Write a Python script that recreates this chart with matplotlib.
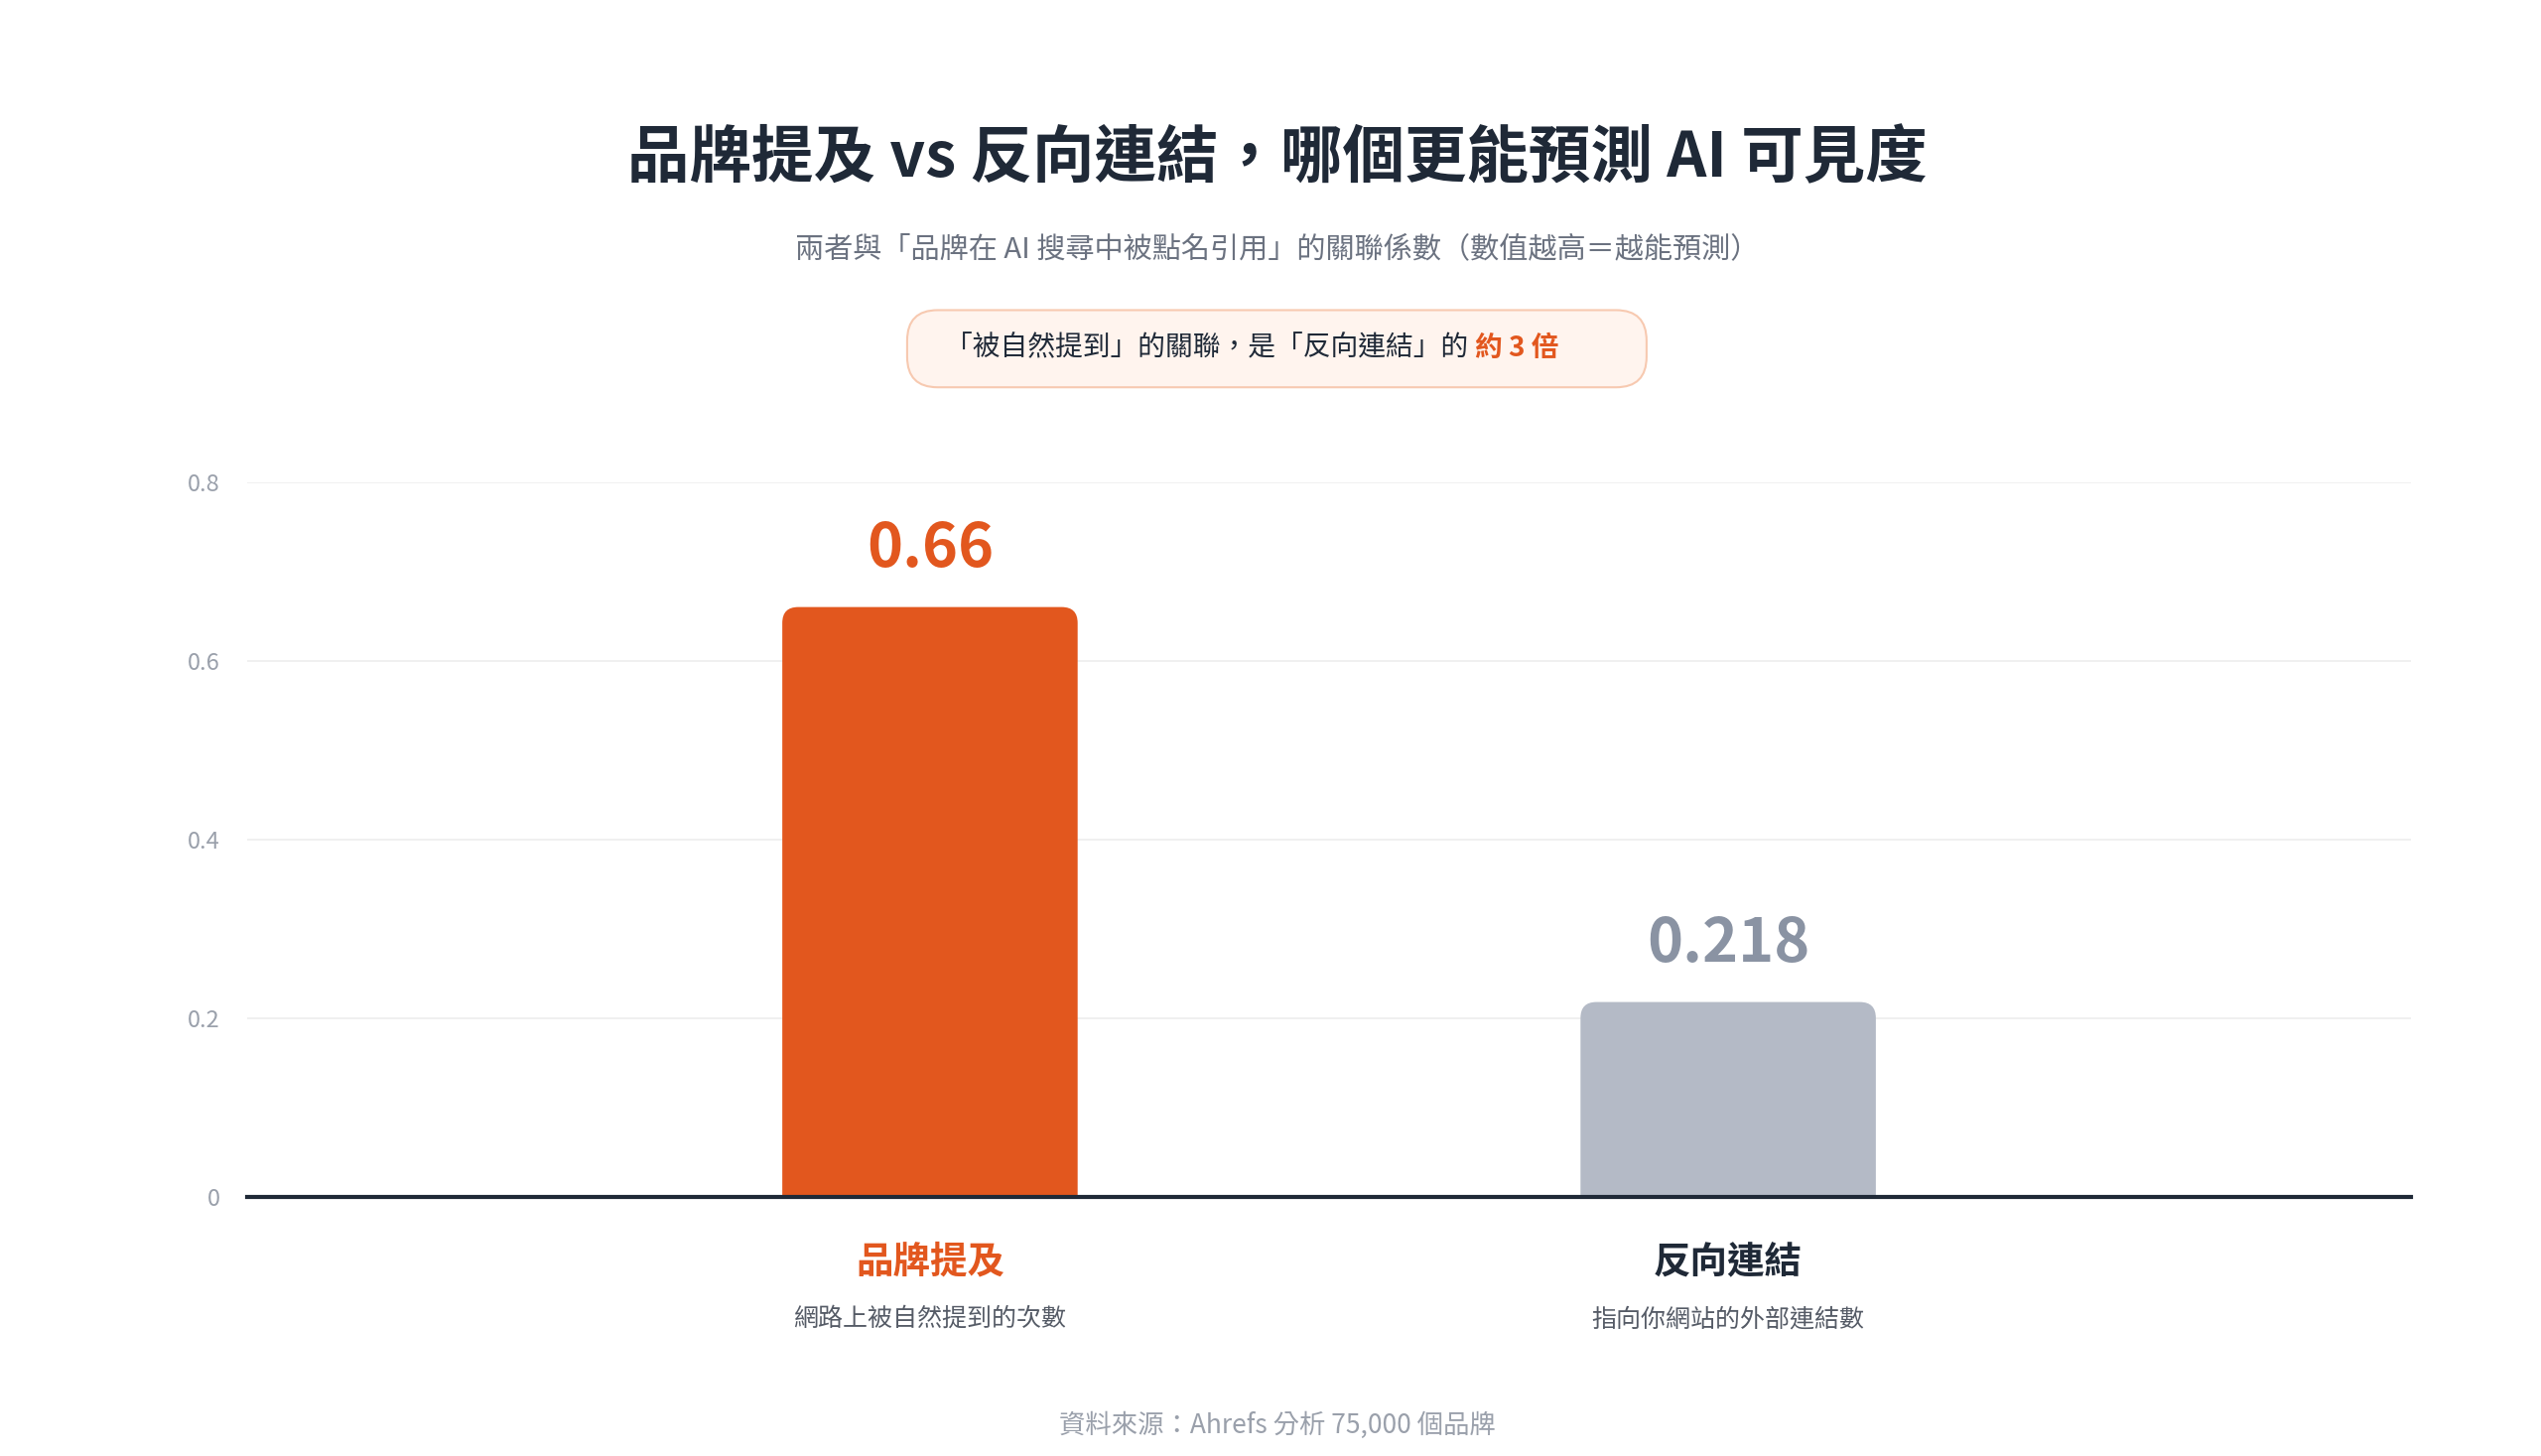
import matplotlib.pyplot as plt
from matplotlib.patches import FancyBboxPatch

plt.rcParams['font.family'] = ['Noto Sans CJK TC', 'DejaVu Sans']

categories = ["品牌提及", "反向連結"]
descriptions = ["網路上被自然提到的次數", "指向你網站的外部連結數"]
values = [0.66, 0.218]
value_labels = ["0.66", "0.218"]
yticks = [0, 0.2, 0.4, 0.6, 0.8]
ytick_labels = ["0", "0.2", "0.4", "0.6", "0.8"]

orange = "#E2571E"
grey_bar = "#B4BAC6"
grey_val = "#8A93A3"
dark = "#1F2937"
bar_colors = [orange, grey_bar]
val_colors = [orange, grey_val]
cat_colors = [orange, dark]

fig = plt.figure(figsize=(25.6, 14.67), dpi=100)
ax = fig.add_axes([0.0974, 0.178, 0.8513, 0.491])
ax.set_xlim(-0.855, 1.855)
ax.set_ylim(0, 0.8)

width = 0.37
for i, v in enumerate(values):
    p = FancyBboxPatch((i - width / 2, -0.05), width, v + 0.05,
                       boxstyle="round,pad=0,rounding_size=0.02",
                       mutation_aspect=0.89, facecolor=bar_colors[i],
                       edgecolor="none", zorder=3)
    ax.add_patch(p)
    ax.annotate(value_labels[i], (i, v), xytext=(0, 42), textcoords="offset points",
                ha="center", va="center", fontsize=44, fontweight="bold",
                color=val_colors[i])
    ax.text(i, -0.091, categories[i], transform=ax.get_xaxis_transform(),
            ha="center", va="center", fontsize=27, fontweight="bold", color=cat_colors[i])
    ax.text(i, -0.171, descriptions[i], transform=ax.get_xaxis_transform(),
            ha="center", va="center", fontsize=18, color="#555B66")

ax.set_yticks(yticks)
ax.set_yticklabels(ytick_labels)
ax.tick_params(axis="y", length=0, pad=20, labelsize=17, labelcolor="#9AA0AB")
ax.set_xticks([])
ax.grid(axis="y", color="#EEEEEE", linewidth=1.2, zorder=0)
for s in ["top", "right", "left"]:
    ax.spines[s].set_visible(False)
ax.spines["bottom"].set_color(dark)
ax.spines["bottom"].set_linewidth(3)
ax.spines["bottom"].set_zorder(4)

fig.text(0.5026, 0.891, "品牌提及 vs 反向連結，哪個更能預測 AI 可見度",
         ha="center", va="center", fontsize=45, fontweight="bold", color=dark)
fig.text(0.5026, 0.829, "兩者與「品牌在 AI 搜尋中被點名引用」的關聯係數（數值越高＝越能預測）",
         ha="center", va="center", fontsize=21, color="#6B7280")

box = FancyBboxPatch((0.357, 0.734), 0.291, 0.053, transform=fig.transFigure,
                     boxstyle="round,pad=0,rounding_size=0.012", mutation_aspect=1.75,
                     facecolor="#FFF4EE", edgecolor="#F7C9B0", linewidth=1.5)
fig.patches.append(box)
t1 = fig.text(0.372, 0.761, "「被自然提到」的關聯，是「反向連結」的 ",
              ha="left", va="center", fontsize=20, color=dark)
fig.canvas.draw()
bb = t1.get_window_extent().transformed(fig.transFigure.inverted())
fig.text(bb.x1, 0.761, "約 3 倍", ha="left", va="center", fontsize=20,
         fontweight="bold", color=orange)

fig.text(0.5026, 0.021, "資料來源：Ahrefs 分析 75,000 個品牌",
         ha="center", va="center", fontsize=19, color="#9AA0AB")

fig.savefig("out.png", dpi=100, facecolor="white")
